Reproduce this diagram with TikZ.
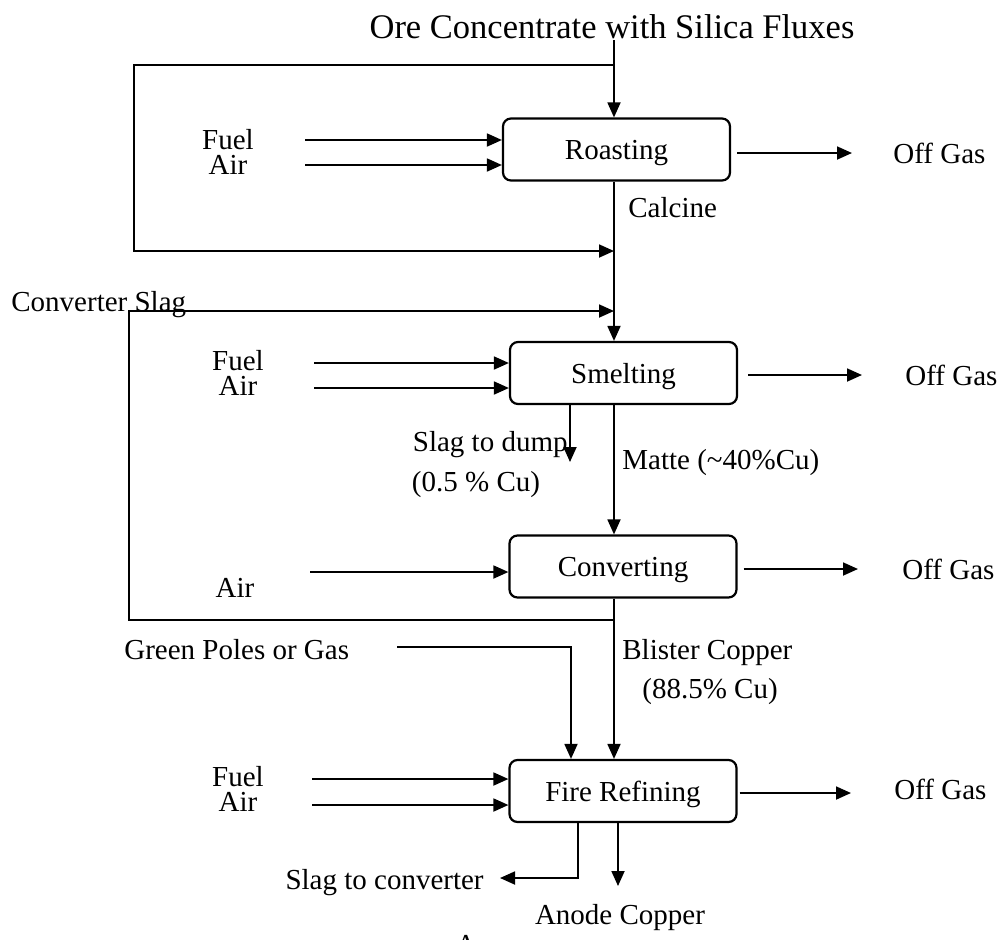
\documentclass[tikz,border=0pt]{standalone}
\usepackage{fontspec}
\setmainfont{Liberation Serif}
\usetikzlibrary{arrows.meta,positioning}

\begin{document}
\begin{tikzpicture}[
  x=0.5pt, y=-0.5pt,
  stage/.style={draw, rounded corners=4pt, line width=1.1pt, minimum width=113.5pt,
    minimum height=31pt, font=\fontsize{14.5}{16}\selectfont, inner sep=0pt,
    text depth=0pt},
  flow/.style={-{Triangle[length=7.5pt,width=6.5pt]}, line width=0.9pt},
  lbl/.style={font=\fontsize{14.5}{16}\selectfont, inner sep=0pt},
  feed/.style={font=\fontsize{14.5}{12.5}\selectfont, inner sep=0pt, align=center},
  headlbl/.style={font=\fontsize{17.25}{19}\selectfont, inner sep=0pt}
]
  \useasboundingbox (0,0) rectangle (1002,939);

  % --- Stages ---
  \node[stage] (roast) at (616.5,149.5) {Roasting};
  \node[stage] (smelt) at (623.5,373) {Smelting};
  \node[stage] (conv) at (623,566.5) {Converting};
  \node[stage] (refine) at (623,791) {Fire Refining};

  % --- Feed and recycle of concentrate ---
  \node[headlbl] (ore) at (612,27) {Ore Concentrate with Silica Fluxes};
  \coordinate (oretop) at (614,40);
  \draw[flow] (oretop) -- (oretop |- roast.north);
  \coordinate (recyc) at (134,65);
  \coordinate (recycin) at (614,251);
  \draw[flow] (recyc -| oretop) -- (recyc) |- (recycin);

  % --- Roasting ---
  \node[feed] (rfeed) at (228,152) {Fuel\\Air};
  \coordinate (rfuelin) at (305,140);
  \coordinate (rairin) at (305,165);
  \draw[flow] (rfuelin) -- (rfuelin -| roast.west);
  \draw[flow] (rairin) -- (rairin -| roast.west);
  \coordinate (rgas) at (852,153);
  \draw[flow, shorten <=3pt] (rgas -| roast.east) -- (rgas);
  \node[lbl, anchor=west] (rgastxt) at (893,153) {Off Gas};
  \node[lbl, anchor=west] (calcine) at (628,208) {Calcine};
  \draw[flow] (roast.south -| oretop) -- (smelt.north -| oretop);

  % --- Converter slag return ---
  \node[lbl, anchor=west] (cslag) at (11,305) {Converter Slag};
  \coordinate (cslagin) at (614,311);
  \coordinate (cslagret) at (129,620);
  \draw[flow] (cslagret -| oretop) -- (cslagret) |- (cslagin);

  % --- Smelting ---
  \node[feed] (sfeed) at (238,373) {Fuel\\Air};
  \coordinate (sfuelin) at (314,363);
  \coordinate (sairin) at (314,388);
  \draw[flow] (sfuelin) -- (sfuelin -| smelt.west);
  \draw[flow] (sairin) -- (sairin -| smelt.west);
  \coordinate (sgas) at (862,375);
  \draw[flow, shorten <=5pt] (sgas -| smelt.east) -- (sgas);
  \node[lbl, anchor=west] (sgastxt) at (905,375) {Off Gas};
  \coordinate (dump) at (570,462);
  \draw[flow] (dump |- smelt.south) -- (dump);
  \node[lbl, anchor=east] (dumptxt) at (568,445) {Slag to dump};
  \node[lbl] (dumpcu) at (476,485) {(0.5 \% Cu)};
  \draw[flow] (smelt.south -| oretop) -- (conv.north -| oretop);
  \node[lbl, anchor=west] (matte) at (622,463) {Matte (\textasciitilde40\%Cu)};

  % --- Converting ---
  \node[lbl] (cair) at (235,588) {Air};
  \coordinate (cairin) at (310,572);
  \draw[flow] (cairin) -- (cairin -| conv.west);
  \coordinate (cgas) at (858,569);
  \draw[flow, shorten <=3pt] (cgas -| conv.east) -- (cgas);
  \node[lbl, anchor=west] (cgastxt) at (902,569) {Off Gas};
  \draw[flow] (conv.south -| oretop) -- (refine.north -| oretop);
  \node[lbl, anchor=west] (blister) at (622,653) {Blister Copper};
  \node[lbl] (blistercu) at (710,692) {(88.5\% Cu)};

  % --- Fire refining ---
  \node[lbl, anchor=west] (poles) at (124,650) {Green Poles or Gas};
  \coordinate (polesin) at (397,647);
  \coordinate (polesdn) at (571,647);
  \draw[flow] (polesin) -- (polesdn) -- (polesdn |- refine.north);
  \node[feed] (ffeed) at (238,789) {Fuel\\Air};
  \coordinate (ffuelin) at (312,779);
  \coordinate (fairin) at (312,805);
  \draw[flow] (ffuelin) -- (ffuelin -| refine.west);
  \draw[flow] (fairin) -- (fairin -| refine.west);
  \coordinate (fgas) at (851,793);
  \draw[flow, shorten <=1pt] (fgas -| refine.east) -- (fgas);
  \node[lbl, anchor=west] (fgastxt) at (894,789) {Off Gas};
  \coordinate (rslag) at (578,878);
  \coordinate (rslagout) at (500,878);
  \draw[flow] (rslag |- refine.south) -- (rslag) -- (rslagout);
  \node[lbl, anchor=east] (rslagtxt) at (484,883) {Slag to converter};
  \coordinate (anode) at (618,886);
  \draw[flow] (anode |- refine.south) -- (anode);
  \node[lbl] (anodetxt) at (620,918) {Anode Copper};
  \node[lbl] (cutoff) at (466,945) {A};
\end{tikzpicture}
\end{document}
